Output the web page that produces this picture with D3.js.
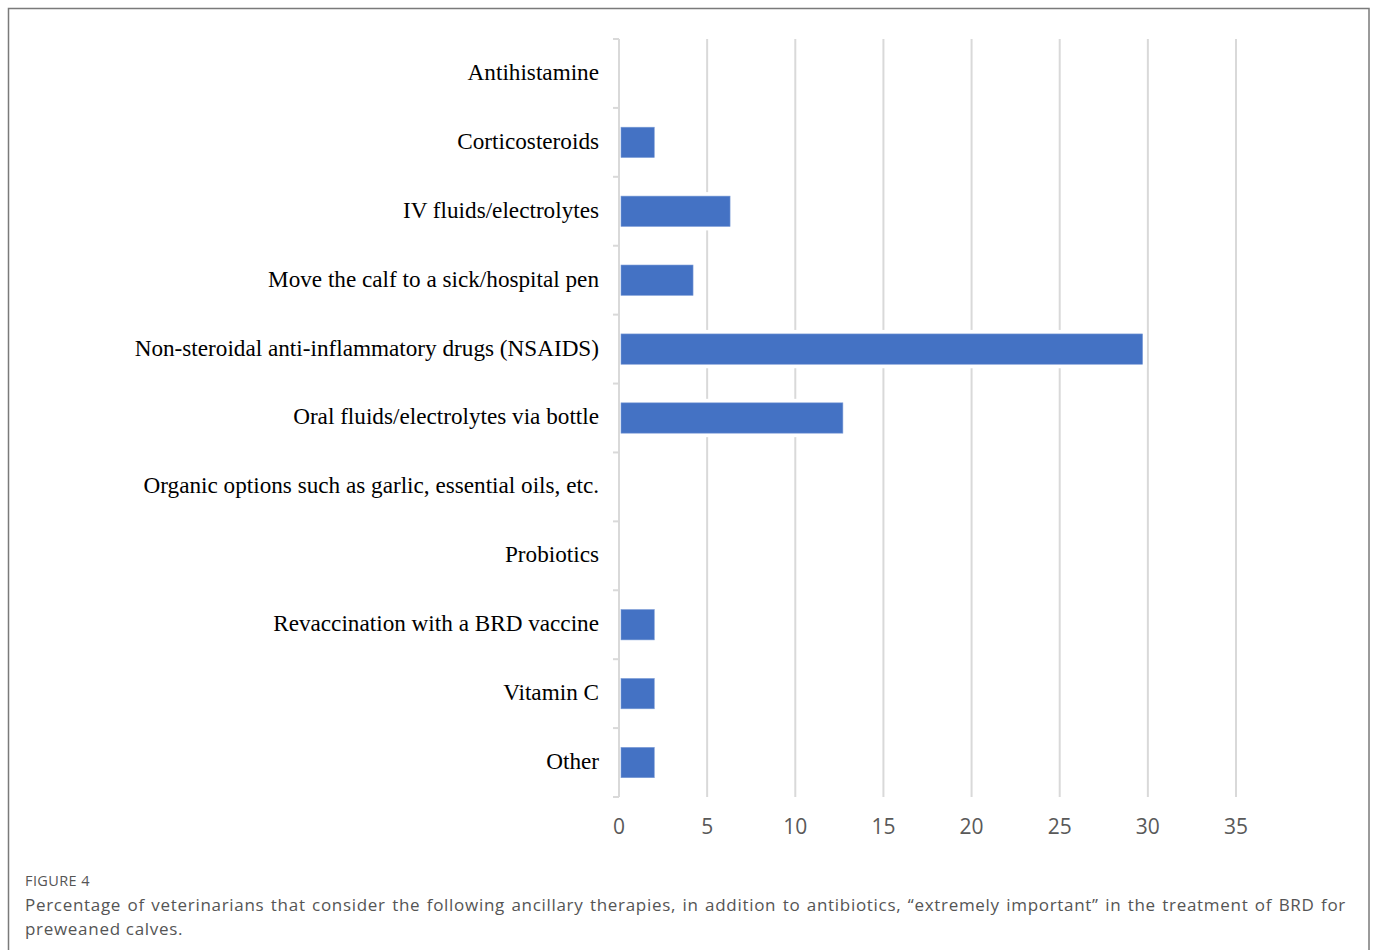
<!DOCTYPE html>
<html><head><meta charset="utf-8">
<script src="https://cdn.jsdelivr.net/npm/d3@7"></script>
<style>
body{margin:0;background:#fff;}
#cap{position:absolute;left:25px;top:893px;width:1321px;font-family:"Open Sans",sans-serif;font-size:17px;letter-spacing:0.7px;line-height:24px;color:#555;text-align:justify;}
#fig{position:absolute;left:25px;top:871px;font-family:"Open Sans",sans-serif;font-size:14.5px;letter-spacing:0.4px;color:#555;}
</style></head>
<body>
<script>
const categories = ["Antihistamine","Corticosteroids","IV fluids/electrolytes","Move the calf to a sick/hospital pen","Non-steroidal anti-inflammatory drugs (NSAIDS)","Oral fluids/electrolytes via bottle","Organic options such as garlic, essential oils, etc.","Probiotics","Revaccination with a BRD vaccine","Vitamin C","Other"];
const values = [0, 2.0, 6.3, 4.2, 29.7, 12.7, 0, 0, 2.0, 2.0, 2.0];
const xTicks = [0,5,10,15,20,25,30,35];
const figLabel = "FIGURE 4";
const caption = "Percentage of veterinarians that consider the following ancillary therapies, in addition to antibiotics, “extremely important” in the treatment of BRD for preweaned calves.";

const W=1375,H=950;
const svg=d3.select("body").append("svg").attr("width",W).attr("height",H).style("position","absolute").style("left",0).style("top",0);
svg.append("rect").attr("x",8.5).attr("y",8.5).attr("width",1360.5).attr("height",H+10).attr("fill","none").attr("stroke","#7a7a7a").attr("stroke-width",1.5);

const x=d3.scaleLinear().domain([0,35]).range([619,1236]);
const y=d3.scaleBand().domain(categories).range([39,797]).paddingInner(0.56).paddingOuter(0.28);
const yb=d3.scaleBand().domain(categories).range([39,797]);

// gridlines
svg.append("g").selectAll("line").data(xTicks.slice(1)).join("line")
 .attr("x1",d=>x(d)).attr("x2",d=>x(d)).attr("y1",39).attr("y2",797)
 .attr("stroke","#d9d9d9").attr("stroke-width",2);

// left axis with ticks at band boundaries
const bounds=categories.map(c=>yb(c)).concat([797]);
svg.append("line").attr("x1",619).attr("x2",619).attr("y1",39).attr("y2",797).attr("stroke","#d9d9d9").attr("stroke-width",2);
svg.append("g").selectAll("line").data(bounds).join("line")
 .attr("x1",613).attr("x2",619).attr("y1",d=>d).attr("y2",d=>d).attr("stroke","#d9d9d9").attr("stroke-width",2);

// bars with white halo
const data=values.map((v,i)=>({v,c:categories[i]})).filter(d=>d.v>0);
const bars=svg.append("g");
bars.selectAll("rect.h").data(data).join("rect")
 .attr("x",x(0)+1).attr("y",d=>y(d.c)-4).attr("width",d=>x(d.v)-x(0)+3).attr("height",y.bandwidth()+8).attr("fill","#fff");
bars.selectAll("rect.b").data(data).join("rect")
 .attr("x",x(0)+2).attr("y",d=>y(d.c)).attr("width",d=>x(d.v)-x(0)-2).attr("height",y.bandwidth())
 .attr("fill","#4472c4").attr("stroke","#7b9bd6").attr("stroke-width",0.6);

// category labels
svg.append("g").selectAll("text").data(categories).join("text")
 .attr("x",599).attr("y",d=>yb(d)+yb.bandwidth()/2-1).attr("dy","0.32em").attr("text-anchor","end")
 .attr("font-family","'Liberation Serif','Times New Roman',serif").attr("font-size",23.2).attr("fill","#000").text(d=>d);

// x tick labels
svg.append("g").selectAll("text").data(xTicks).join("text")
 .attr("x",d=>x(d)).attr("y",827).attr("dy","0.35em").attr("text-anchor","middle")
 .attr("font-family","'Open Sans',sans-serif").attr("font-size",21).attr("fill","#595959").text(d=>d);

d3.select("body").append("div").attr("id","fig").text(figLabel);
d3.select("body").append("div").attr("id","cap").text(caption);
</script>
</body></html>
